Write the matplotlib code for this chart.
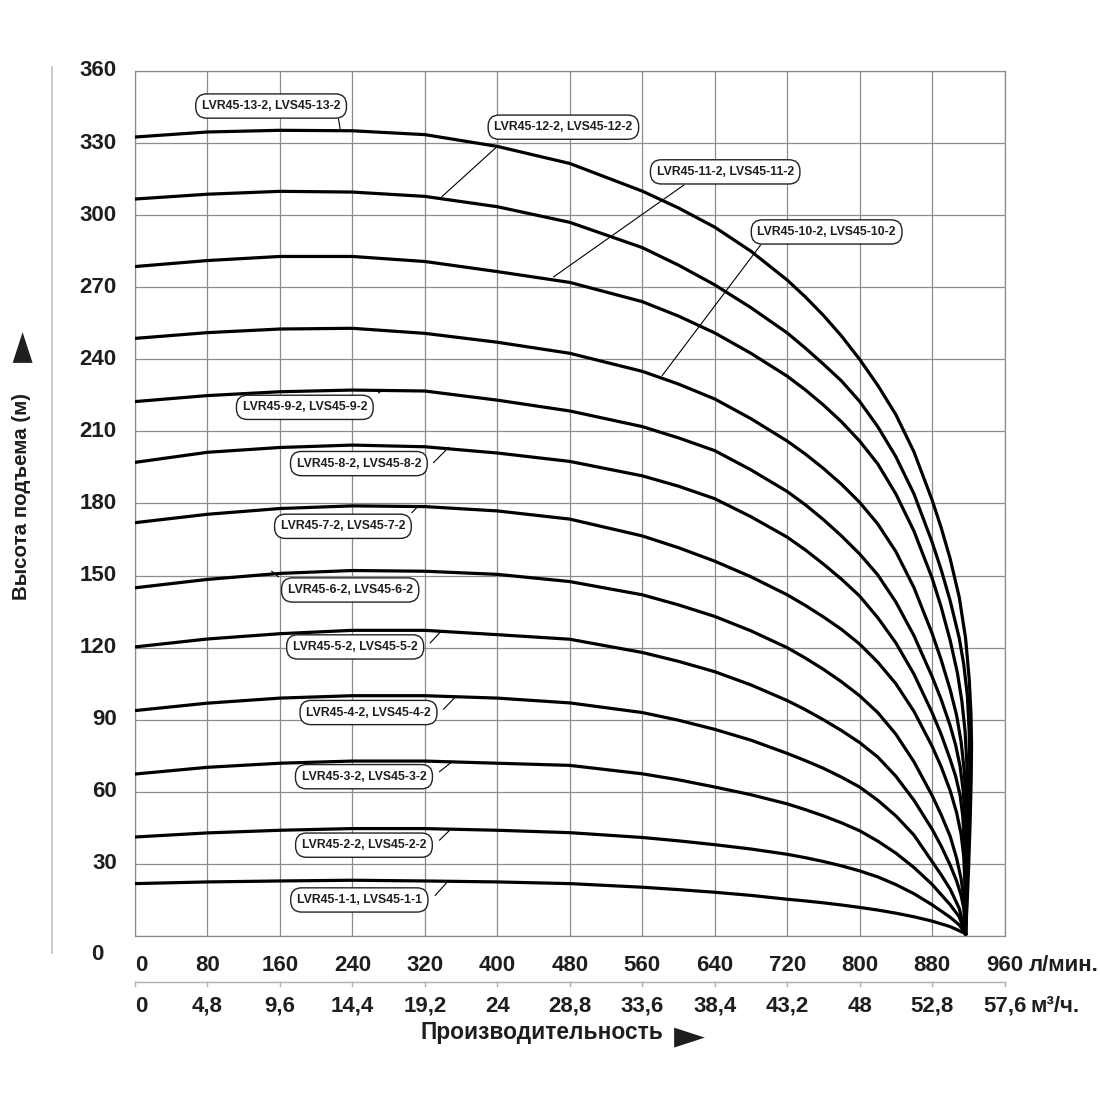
import matplotlib
matplotlib.use('Agg')
import matplotlib.pyplot as plt
from matplotlib.lines import Line2D

# axis ticks
X_LPM = [0, 80, 160, 240, 320, 400, 480, 560, 640, 720, 800, 880, 960]
X_M3H = ['0', '4,8', '9,6', '14,4', '19,2', '24', '28,8', '33,6', '38,4', '43,2', '48', '52,8', '57,6']
Y_TICKS = [0, 30, 60, 90, 120, 150, 180, 210, 240, 270, 300, 330, 360]

# head curves: common flow grid (л/мин) up to 880, then a steep tail per curve
Q_FLAT = [0, 80, 160, 240, 320, 400, 480, 560, 600, 640, 680, 720, 740, 760, 780, 800, 820, 840, 860, 880]
H_FLAT = [
    [21.8, 22.5, 22.9, 23.2, 22.9, 22.5, 21.8, 20.3, 19.3, 18.2, 16.9, 15.3, 14.6, 13.8, 12.9, 11.9, 10.8, 9.5, 8.0, 6.2],
    [41.2, 42.9, 44.0, 44.7, 44.7, 44.0, 43.0, 41.0, 39.6, 38.0, 36.2, 34.0, 32.6, 31.0, 29.2, 27.1, 24.6, 21.4, 17.6, 13.0],
    [67.4, 70.2, 71.9, 72.8, 72.8, 71.9, 71.0, 67.5, 65.0, 62.0, 58.8, 55.0, 52.6, 50.0, 47.1, 43.8, 39.5, 34.5, 28.5, 21.5],
    [93.8, 96.9, 99.0, 100.0, 100.0, 99.0, 97.0, 93.0, 89.8, 86.0, 81.5, 76.0, 73.0, 69.8, 66.1, 62.0, 56.5, 50.0, 42.0, 31.0],
    [120.3, 123.6, 125.8, 127.2, 127.2, 125.4, 123.5, 118.0, 114.3, 110.0, 104.5, 98.0, 94.2, 90.0, 85.5, 80.5, 74.5, 66.5, 56.5, 44.5],
    [144.9, 148.4, 150.9, 152.1, 151.8, 150.5, 147.5, 142.0, 137.8, 133.0, 127.0, 120.0, 115.7, 111.0, 105.8, 100.0, 93.0, 84.0, 72.5, 58.5],
    [172.0, 175.5, 177.9, 179.0, 178.7, 176.9, 173.5, 166.5, 161.6, 156.0, 149.5, 142.0, 137.6, 132.8, 127.6, 121.5, 114.0, 105.0, 93.5, 79.0],
    [197.1, 201.3, 203.3, 204.3, 203.6, 201.0, 197.5, 191.5, 187.2, 182.0, 174.5, 166.0, 160.7, 154.8, 148.5, 141.5, 132.5, 122.0, 109.0, 93.0],
    [222.4, 224.9, 226.5, 227.2, 226.8, 223.0, 218.5, 212.0, 207.3, 202.0, 194.0, 185.0, 179.5, 173.3, 166.5, 159.0, 150.3, 139.0, 125.0, 108.0],
    [248.7, 251.1, 252.6, 252.9, 250.8, 247.1, 242.5, 235.0, 229.7, 223.5, 215.3, 206.0, 200.6, 194.6, 188.0, 180.5, 171.5, 160.0, 145.0, 126.0],
    [278.6, 281.1, 282.8, 282.8, 280.7, 276.5, 272.0, 264.0, 258.0, 251.0, 242.5, 233.0, 227.3, 221.0, 214.0, 206.0, 196.5, 184.0, 168.5, 149.0],
    [306.7, 308.7, 309.9, 309.6, 307.8, 303.5, 297.0, 286.5, 279.2, 271.0, 261.5, 251.0, 244.7, 238.0, 231.0, 222.5, 212.0, 199.5, 184.0, 164.0],
    [332.5, 334.6, 335.3, 335.1, 333.5, 328.6, 321.5, 310.0, 303.0, 295.0, 285.0, 273.0, 266.0, 258.3, 249.7, 240.0, 229.2, 217.0, 201.5, 181.5],
]
TAIL_Q = [
    [900, 917],
    [900, 910, 917],
    [900, 910, 917],
    [890, 900, 910, 917],
    [890, 900, 907, 912, 915, 917],
    [890, 900, 907, 912, 915, 917],
    [890, 900, 907, 912, 915, 916.5, 917],
    [890, 900, 906, 911, 914, 916, 916.8, 917],
    [890, 900, 906, 911, 914.5, 916.5, 917.3, 917.3, 917],
    [890, 900, 907, 912, 915.5, 917.5, 918.2, 918, 917],
    [890, 900, 908, 913, 916.5, 918.5, 919.3, 919, 918.2, 917],
    [890, 900, 910, 915, 919, 921, 921.6, 921.2, 920, 918.5, 917],
    [890, 900, 910, 917, 921, 923, 923.6, 923.2, 922, 920.3, 918.5, 917],
]
TAIL_H = [
    [3.9, 1.0],
    [7.8, 4.6, 1.0],
    [13.0, 8.0, 1.0],
    [25.5, 19.5, 11.5, 1.0],
    [37.5, 29.5, 23.0, 17.0, 11.5, 1.0],
    [50.5, 41.5, 32.5, 24.0, 16.0, 1.0],
    [70.5, 60.5, 51.5, 42.5, 33.0, 20.0, 1.0],
    [84.0, 73.5, 66.5, 58.5, 49.5, 36.0, 20.0, 1.0],
    [98.5, 87.5, 79.5, 70.5, 60.0, 47.0, 31.0, 15.0, 1.0],
    [115.0, 102.5, 92.0, 81.0, 69.0, 55.0, 38.0, 20.0, 1.0],
    [137.0, 123.0, 109.5, 97.5, 85.0, 71.0, 55.0, 40.0, 22.0, 1.0],
    [152.5, 139.5, 124.0, 113.0, 100.0, 85.0, 70.0, 54.0, 36.0, 18.0, 1.0],
    [170.0, 157.0, 141.0, 124.0, 107.0, 92.0, 80.0, 65.0, 47.0, 28.0, 12.0, 1.0],
]

MODELS = ['LVR45-1-1, LVS45-1-1', 'LVR45-2-2, LVS45-2-2', 'LVR45-3-2, LVS45-3-2',
          'LVR45-4-2, LVS45-4-2', 'LVR45-5-2, LVS45-5-2', 'LVR45-6-2, LVS45-6-2',
          'LVR45-7-2, LVS45-7-2', 'LVR45-8-2, LVS45-8-2', 'LVR45-9-2, LVS45-9-2',
          'LVR45-10-2, LVS45-10-2', 'LVR45-11-2, LVS45-11-2', 'LVR45-12-2, LVS45-12-2',
          'LVR45-13-2, LVS45-13-2']
# label box centres and leader lines (start at the box edge, end on the curve)
LABEL_XY = [(247.7, 15.0), (252.8, 37.8), (252.8, 66.3), (257.8, 93.0), (243.1, 120.3),
            (237.6, 144.0), (229.6, 170.5), (247.2, 196.6), (187.5, 220.0), (763.6, 293.0),
            (651.6, 318.0), (473.0, 336.6), (150.3, 345.4)]
LEADER_FROM = [(331.5, 16.9), (336.3, 39.9), (336.3, 68.4), (340.7, 94.4), (326.0, 122.0),
               (158.4, 149.5), (305.7, 176.2), (329.6, 197.0), (268.9, 226.0), (690.6, 287.5),
               (605.9, 312.5), (399.7, 328.5), (224.7, 340.0)]
LEADER_TO = [(343.7, 22.0), (347.4, 44.0), (350.0, 72.5), (353.6, 99.4), (337.0, 126.4),
             (151.0, 151.8), (313.0, 179.0), (346.2, 203.3), (272.6, 227.0), (582.0, 233.2),
             (462.2, 274.3), (338.9, 307.7), (226.5, 336.0)]

FAM = ['Liberation Sans', 'DejaVu Sans']
BOLD = dict(fontweight='bold', color='#1e1e1e', family=FAM)

fig = plt.figure(figsize=(11, 11), dpi=100)
ax = fig.add_axes([0.1227, 0.1491, 0.7905, 0.7864])
ax.set_xlim(0, 960)
ax.set_ylim(0, 360)
ax.set_xticks(X_LPM)
ax.set_yticks(Y_TICKS)
ax.grid(True, color='#8c8c8c', lw=0.9)
ax.tick_params(length=0, labelbottom=False, labelleft=False)
for s in ax.spines.values():
    s.set_color('#8c8c8c')
    s.set_linewidth(0.9)

for i in range(len(H_FLAT)):
    q = Q_FLAT + TAIL_Q[i]
    h = H_FLAT[i] + TAIL_H[i]
    ax.plot(q, h, color='black', lw=2.3, solid_joinstyle='round', zorder=3)

for i, txt in enumerate(MODELS):
    (x0, y0), (x1, y1) = LEADER_FROM[i], LEADER_TO[i]
    ax.plot([x0, x1], [y0, y1], color='black', lw=0.8, zorder=4)
    ax.text(LABEL_XY[i][0], LABEL_XY[i][1], txt, ha='center', va='center', fontsize=8.8,
            fontweight='bold', color='#1e1e1e', family=FAM,
            bbox=dict(boxstyle='round,pad=0.5,rounding_size=0.9', fc='white', ec='#222222', lw=1.0),
            zorder=5)

# y tick labels
ytr = ax.get_yaxis_transform()
for v in Y_TICKS[1:]:
    ax.text(-0.021, v, str(v), transform=ytr, ha='right', va='center', fontsize=16, **BOLD)
ax.text(-0.036, -7.5, '0', transform=ytr, ha='right', va='center', fontsize=16, **BOLD)

# two rows of x tick labels with a thin scale line between them
xtr = ax.get_xaxis_transform()
for q, m in zip(X_LPM, X_M3H):
    ha = 'left' if q == 0 else 'center'
    ax.text(q, -0.0345, str(q), transform=xtr, ha=ha, va='center', fontsize=16, **BOLD)
    ax.text(q, -0.081, m, transform=xtr, ha=ha, va='center', fontsize=16, **BOLD)
    ax.plot([q, q], [-0.0532, -0.0575], transform=xtr, color='#b0b0b0', lw=1, clip_on=False)
ax.plot([X_LPM[0], X_LPM[-1]], [-0.0532, -0.0532], transform=xtr, color='#b0b0b0', lw=1, clip_on=False)
ax.text(987, -0.0345, 'л/мин.', transform=xtr, ha='left', va='center', fontsize=16, **BOLD)
ax.text(989, -0.081, 'м³/ч.', transform=xtr, ha='left', va='center', fontsize=16, **BOLD)

# axis titles with their arrows
ARROW = dict(color='#1e1e1e', family=['DejaVu Sans'], fontsize=29)
fig.text(542 / 1100, 1 - 1032 / 1100, 'Производительность', ha='center', va='center', fontsize=16.4, **BOLD)
fig.text(689 / 1100, 1 - 1036 / 1100, '►', ha='center', va='center', **ARROW)
fig.text(22 / 1100, 1 - 496 / 1100, 'Высота подъема (м)', rotation=90, ha='center', va='center',
         fontsize=14.8, **BOLD)
fig.text(22 / 1100, 1 - 346 / 1100, '►', rotation=90, ha='center', va='center', **ARROW)
fig.add_artist(Line2D([52 / 1100, 52 / 1100], [1 - 67 / 1100, 1 - 953 / 1100], color='#c4c4c4', lw=1.2))

fig.savefig('out.png', dpi=100, facecolor='white')
